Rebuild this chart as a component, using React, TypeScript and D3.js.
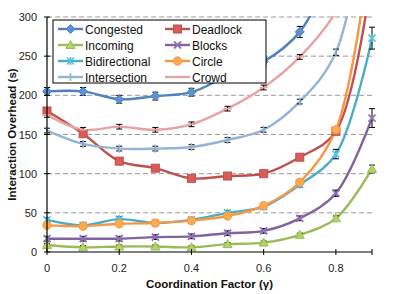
import React from "react";
import * as d3 from "d3";

// coordination factor (gamma)
const factors = [0, 0.1, 0.2, 0.3, 0.4, 0.5, 0.6, 0.7, 0.8, 0.9];

const seriesNames = ["Congested", "Deadlock", "Incoming", "Blocks", "Bidirectional", "Circle", "Intersection", "Crowd"];

const congested = [205, 205, 195, 199, 204, 225, 243, 281, 368, 450];
const deadlock = [180, 151, 116, 107, 94, 97, 100, 121, 154, 356];
const incoming = [9, 6, 7, 7, 6, 10, 12, 22, 43, 106];
const blocks = [17, 17, 17, 19, 20, 24, 27, 43, 75, 171];
const bidirectional = [41, 34, 42, 37, 41, 50, 58, 86, 125, 273];
const circle = [34, 33, 36, 37, 40, 46, 59, 89, 156, 403];
const intersection = [155, 138, 132, 132, 134, 143, 156, 192, 255, 485];
const crowd = [175, 156, 160, 156, 163, 183, 210, 249, 306, 400];

const congestedErr = [5, 5, 5, 5, 5, 5, 5, 7, 7, 7];
const deadlockErr = [3, 3, 3, 3, 3, 3, 3, 3, 3, 3];
const incomingErr = [2, 2, 2, 2, 2, 2, 2, 2, 3, 5];
const blocksErr = [3, 3, 3, 3, 3, 3, 3, 3, 4, 12];
const bidirectionalErr = [3, 3, 3, 3, 3, 3, 3, 3, 6, 14];
const circleErr = [2, 2, 2, 2, 2, 2, 2, 3, 3, 5];
const intersectionErr = [3, 3, 3, 3, 3, 3, 3, 3, 4, 5];
const crowdErr = [3, 3, 3, 3, 3, 3, 3, 3, 3, 4];

const yTicks = [0, 50, 100, 150, 200, 250, 300];
const xTicks = [0, 0.2, 0.4, 0.6, 0.8];

const colors = ["#4F81BD", "#C0504D", "#9BBB59", "#8064A2", "#4BACC6", "#F79646", "#95B3D7", "#E6A3A1"];
const markers = ["diamond", "square", "triangle", "x", "star", "circle", "plus", "dash"];

const values = [congested, deadlock, incoming, blocks, bidirectional, circle, intersection, crowd];
const errors = [congestedErr, deadlockErr, incomingErr, blocksErr, bidirectionalErr, circleErr, intersectionErr, crowdErr];

const W = 395;
const H = 294;
const margin = { top: 17, left: 47, right: 23, bottom: 42 };
const font = "'Liberation Sans', Arial, sans-serif";

const x = d3.scaleLinear().domain([0, 0.9]).range([margin.left, W - margin.right]);
const y = d3.scaleLinear().domain([0, 300]).range([H - margin.bottom, margin.top]);

const Marker = ({ type, cx, cy, color }: { type: string; cx: number; cy: number; color: string }) => {
  const light = d3.color(color)!.brighter(0.35).toString();
  if (type === "diamond")
    return <path d={`M${cx},${cy - 4.5}L${cx + 4.5},${cy}L${cx},${cy + 4.5}L${cx - 4.5},${cy}Z`} fill={light} stroke={color} strokeWidth={1} />;
  if (type === "square")
    return <rect x={cx - 4} y={cy - 4} width={8} height={8} fill={light} stroke={color} strokeWidth={1} />;
  if (type === "triangle")
    return <path d={`M${cx},${cy - 4.5}L${cx + 4.5},${cy + 3.5}L${cx - 4.5},${cy + 3.5}Z`} fill={light} stroke={color} strokeWidth={1} />;
  if (type === "circle")
    return <circle cx={cx} cy={cy} r={4.2} fill={light} stroke={color} strokeWidth={1} />;
  if (type === "x")
    return <path d={`M${cx - 3.5},${cy - 3.5}L${cx + 3.5},${cy + 3.5}M${cx - 3.5},${cy + 3.5}L${cx + 3.5},${cy - 3.5}`} stroke={light} strokeWidth={1.8} />;
  if (type === "star")
    return <path d={`M${cx - 3.5},${cy - 3.5}L${cx + 3.5},${cy + 3.5}M${cx - 3.5},${cy + 3.5}L${cx + 3.5},${cy - 3.5}M${cx},${cy - 4}L${cx},${cy + 4}`} stroke={light} strokeWidth={1.6} />;
  if (type === "plus")
    return <path d={`M${cx},${cy - 4}L${cx},${cy + 4}`} stroke={color} strokeWidth={1.6} />;
  return <path d={`M${cx - 4},${cy}L${cx + 4},${cy}`} stroke={color} strokeWidth={1.6} />;
};

const line = d3
  .line<number>()
  .x((_, i) => x(factors[i]))
  .y((d) => y(d))
  .curve(d3.curveCatmullRom.alpha(0.5));

export default function App() {
  const x0 = margin.left;
  const x1 = W - margin.right;
  const yBase = y(0);

  const legendRows = 4;
  const legendX = 53;
  const legendY = 20;

  return (
    <svg width={W} height={H} style={{ position: "absolute", left: 0, top: 0, background: "#fff" }}>
      <defs>
        <clipPath id="plotClip">
          <rect x={0} y={margin.top - 1} width={W} height={H} />
        </clipPath>
      </defs>

      {/* grid */}
      {yTicks.filter((t) => t > 0).map((t) => (
        <line key={t} x1={x0} x2={x1} y1={y(t)} y2={y(t)} stroke="#9a9a9a" strokeWidth={1} strokeDasharray="5,3" />
      ))}

      {/* series */}
      <g clipPath="url(#plotClip)">
        {values.map((vals, s) => (
          <path key={"l" + s} d={line(vals) || ""} fill="none" stroke={colors[s]} strokeWidth={2.4} />
        ))}
        {values.map((vals, s) =>
          vals.map((v, i) => {
            const e = errors[s][i];
            const cx = x(factors[i]);
            return (
              <g key={"e" + s + "-" + i} stroke="#000" strokeWidth={1}>
                <line x1={cx} x2={cx} y1={y(v - e)} y2={y(v + e)} />
                <line x1={cx - 3} x2={cx + 3} y1={y(v - e)} y2={y(v - e)} />
                <line x1={cx - 3} x2={cx + 3} y1={y(v + e)} y2={y(v + e)} />
              </g>
            );
          })
        )}
        {values.map((vals, s) =>
          vals.map((v, i) => <Marker key={"m" + s + "-" + i} type={markers[s]} cx={x(factors[i])} cy={y(v)} color={colors[s]} />)
        )}
      </g>

      {/* axes */}
      <line x1={x0} x2={x0} y1={margin.top} y2={yBase} stroke="#000" strokeWidth={1.2} />
      <line x1={x0} x2={x1} y1={yBase} y2={yBase} stroke="#000" strokeWidth={1.2} />
      {yTicks.map((t) => (
        <g key={"yt" + t}>
          <line x1={x0 - 3} x2={x0 + 3} y1={y(t)} y2={y(t)} stroke="#000" />
          <text x={x0 - 10} y={y(t) + 4} textAnchor="end" fontSize={11} fontFamily={font} fill="#222">
            {t}
          </text>
        </g>
      ))}
      {xTicks.map((t) => (
        <g key={"xt" + t}>
          <line x1={x(t)} x2={x(t)} y1={yBase - 3} y2={yBase + 3} stroke="#000" />
          <text x={x(t)} y={yBase + 20} textAnchor="middle" fontSize={11} fontFamily={font} fill="#222">
            {t}
          </text>
        </g>
      ))}
      <line x1={x1} x2={x1} y1={yBase - 3} y2={yBase + 3} stroke="#000" />

      <text x={(x0 + x1) / 2} y={288} textAnchor="middle" fontSize={11.5} fontWeight="bold" fontFamily={font} fill="#111">
        Coordination Factor (γ)
      </text>
      <text
        transform={`translate(16,${(margin.top + yBase) / 2}) rotate(-90)`}
        textAnchor="middle"
        fontSize={11.5}
        fontWeight="bold"
        fontFamily={font}
        fill="#111"
      >
        Interaction Overhead (s)
      </text>

      {/* legend */}
      <rect x={legendX} y={legendY} width={213} height={63} fill="#fff" stroke="#000" strokeWidth={1} />
      {seriesNames.map((name, s) => {
        const col = s % 2;
        const row = Math.floor(s / 2) % legendRows;
        const ly = 29 + row * 16;
        const lx0 = col === 0 ? 58 : 165;
        const lx1 = col === 0 ? 83 : 190;
        return (
          <g key={"lg" + s}>
            <line x1={lx0} x2={lx1} y1={ly} y2={ly} stroke={colors[s]} strokeWidth={2.4} />
            <Marker type={markers[s]} cx={(lx0 + lx1) / 2} cy={ly} color={colors[s]} />
            <text x={lx1 + 2} y={ly + 4.5} fontSize={12} fontFamily={font} fill="#111">
              {name}
            </text>
          </g>
        );
      })}
    </svg>
  );
}
